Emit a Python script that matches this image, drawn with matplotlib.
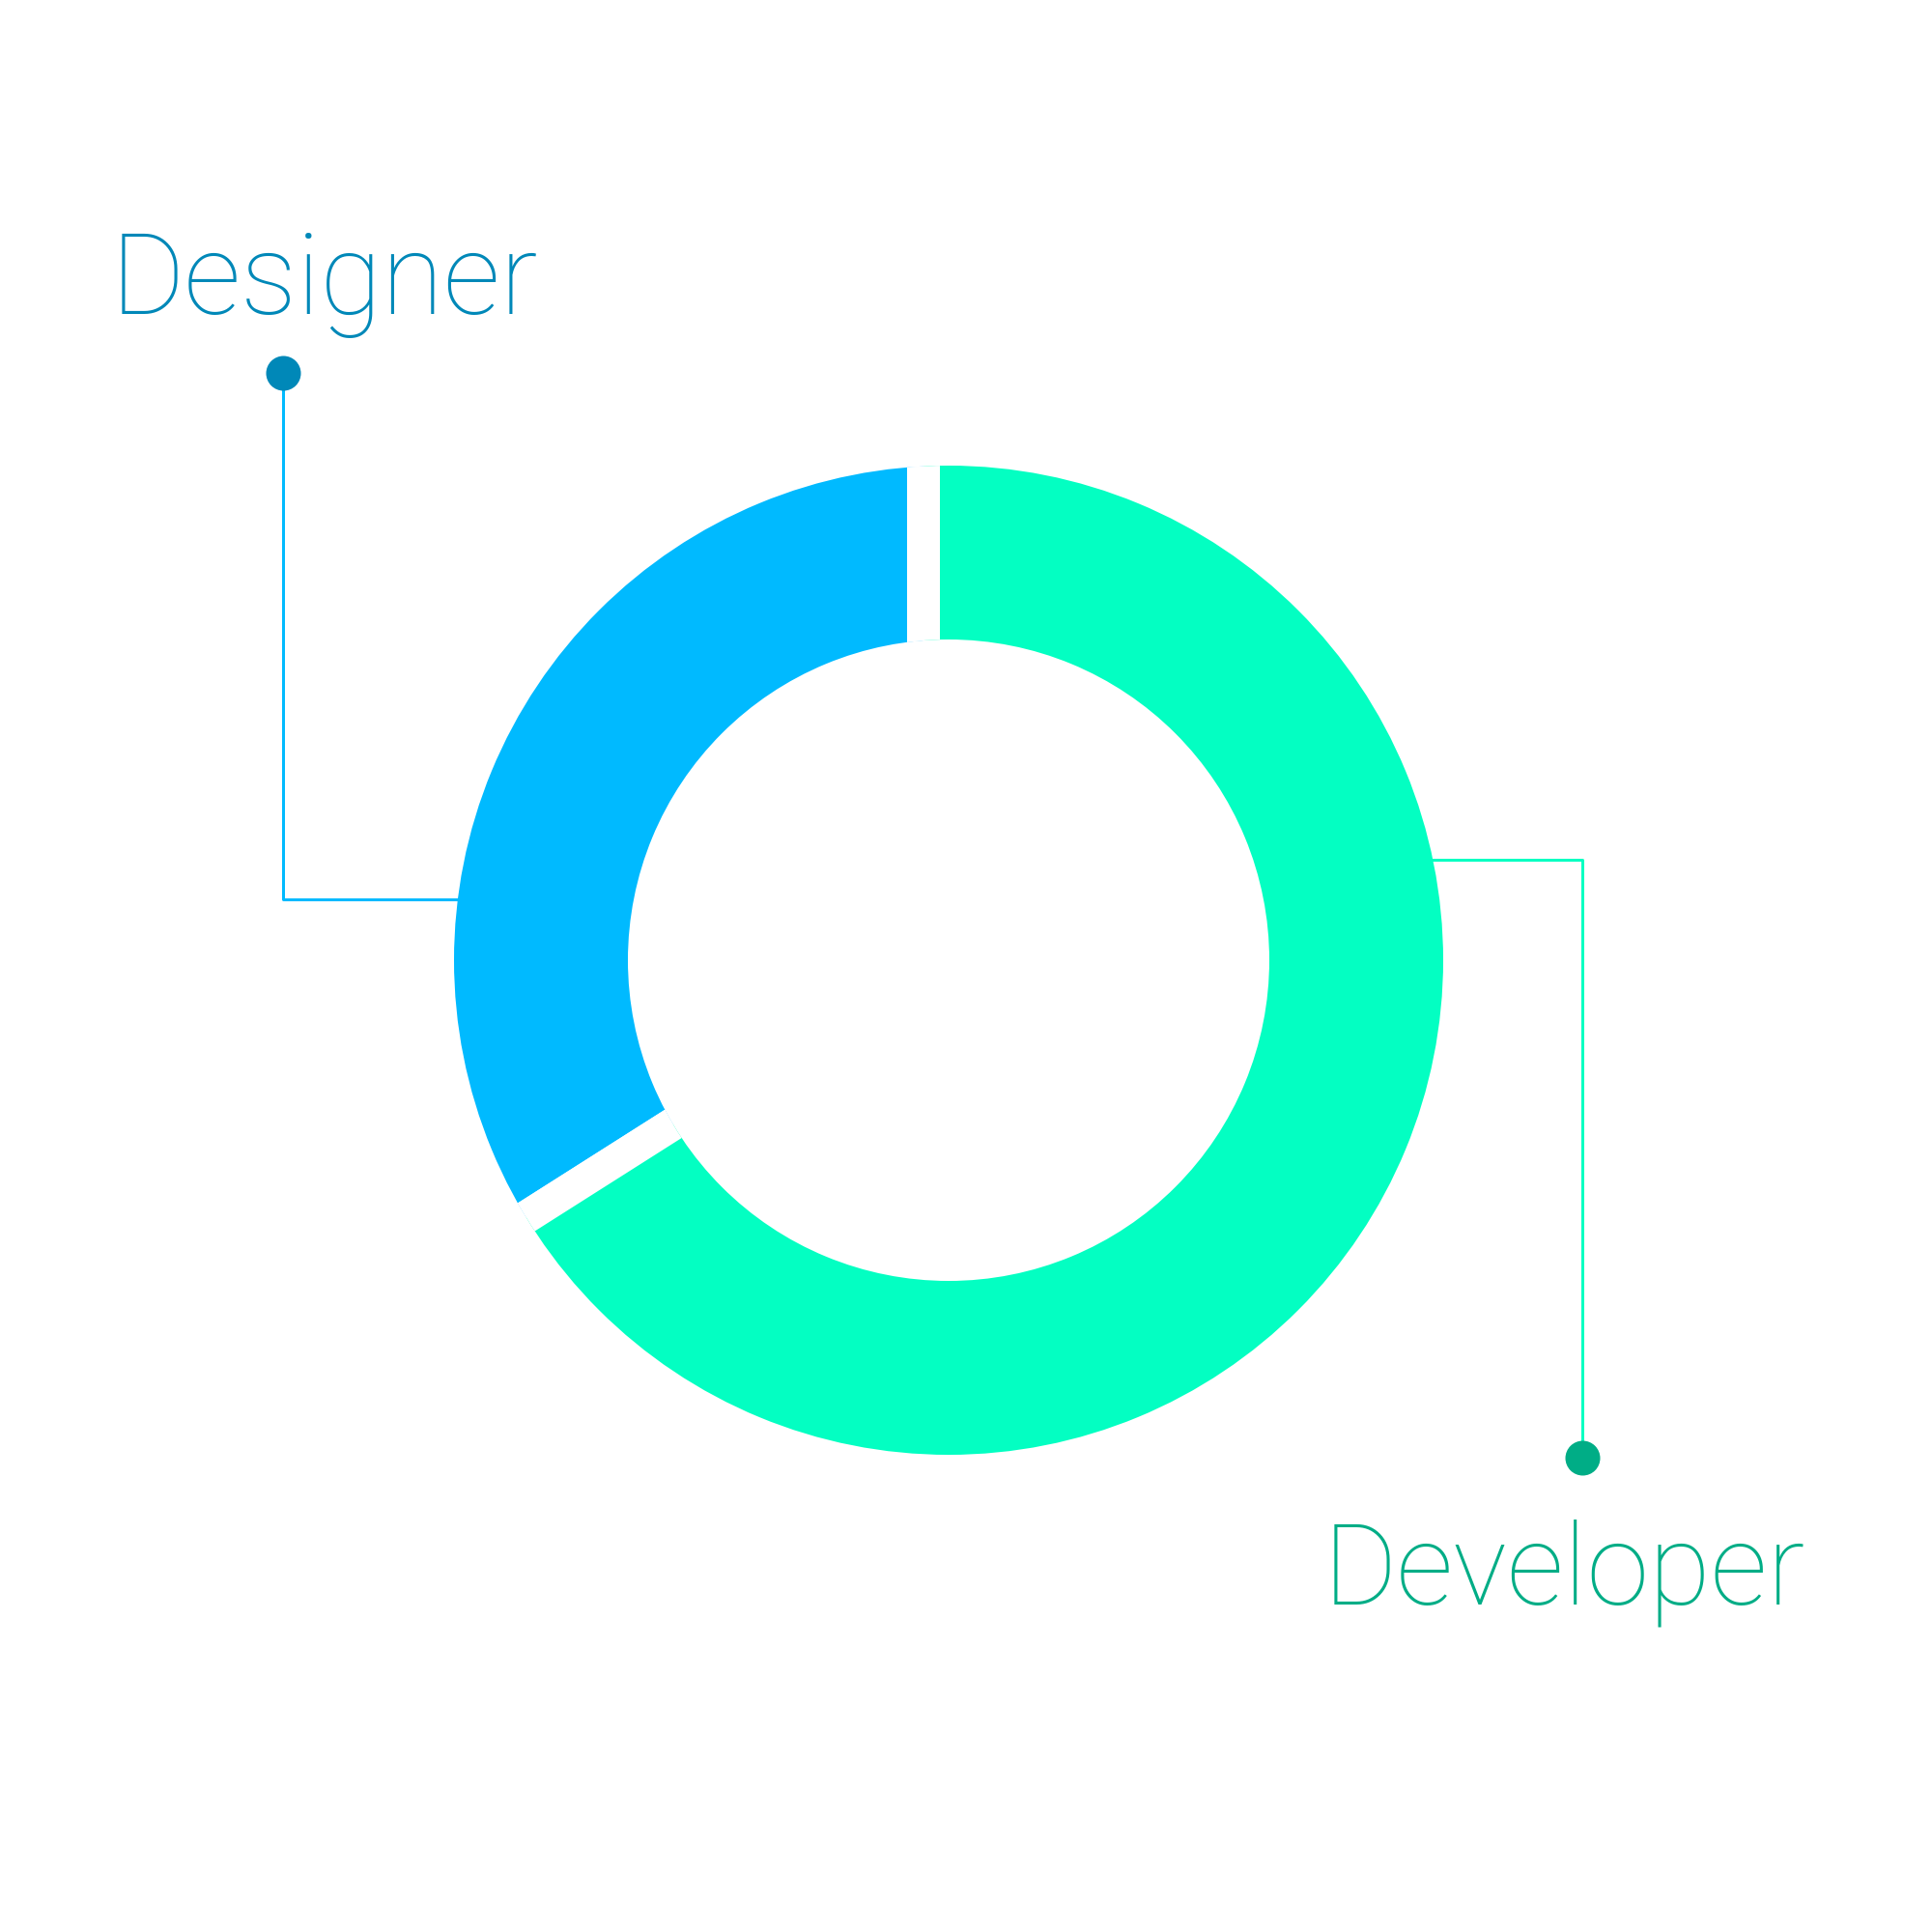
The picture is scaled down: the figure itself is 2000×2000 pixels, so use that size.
import matplotlib
matplotlib.use("Agg")
import matplotlib.pyplot as plt
from matplotlib.patches import Annulus
import numpy as np

# data
labels = ["Designer", "Developer"]
shares = [34, 66]
colors = ["#00BAFF", "#03FFC2"]
line_colors = ["#00BAFF", "#03FFC2"]
text_colors = ["#0088B8", "#00AD86"]

# layout (canvas pixels, y pointing up)
center = (982, 1006)      # ring centre
apex = (956, 1001)        # point the slice edges radiate from
r_out = 512
r_in = 332
gap_px = 34

fig = plt.figure(figsize=(10, 10), dpi=200)
ax = fig.add_axes([0, 0, 1, 1])
px = 72 / 200  # points per pixel

ring = Annulus(center, r_out, r_out - r_in, facecolor="none", edgecolor="none")
ax.add_patch(ring)
wedges, _ = ax.pie(shares, colors=colors, startangle=90, counterclock=True,
                   center=apex, radius=620,
                   wedgeprops=dict(edgecolor="white", linewidth=gap_px * px))
for w in wedges:
    # pie turns clipping off for its wedges, switch it back on
    w.set_clip_on(True)
    w.set_clip_path(ring)

ax.set_xlim(0, 2000)
ax.set_ylim(0, 2000)
ax.set_aspect("equal")
ax.axis("off")

# leader lines: anchor angle on outer edge, elbow, dot, label
leaders = [
    dict(angle=172.9, elbow_x=293, dot_y=1614, text=(115, 1675)),
    dict(angle=11.7, elbow_x=1638, dot_y=491, text=(1370, 340)),
]
for i, ld in enumerate(leaders):
    a = np.deg2rad(ld["angle"])
    x0 = center[0] + (r_out - 1) * np.cos(a)
    y0 = center[1] + (r_out - 1) * np.sin(a)
    ax.plot([x0, ld["elbow_x"], ld["elbow_x"]], [y0, y0, ld["dot_y"]],
            color=line_colors[i], lw=3 * px, solid_capstyle="butt", zorder=3)
    ax.scatter([ld["elbow_x"]], [ld["dot_y"]], s=(36 * px) ** 2,
               color=text_colors[i], zorder=4, linewidths=0)
    ax.text(ld["text"][0], ld["text"][1], labels[i], color=text_colors[i],
            fontsize=42, family="Roboto", fontweight=100,
            ha="left", va="baseline")

fig.savefig("out.png", dpi=200, facecolor="white")
